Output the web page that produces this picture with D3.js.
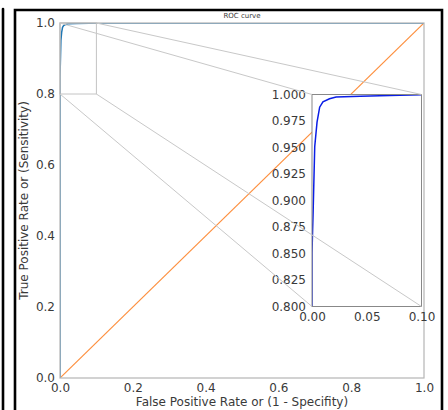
<!DOCTYPE html>
<html>
<head>
<meta charset="utf-8">
<script src="https://cdn.jsdelivr.net/npm/d3@7"></script>
<style>
  body { margin: 0; background: #fff; }
  svg text { font-family: "DejaVu Sans", sans-serif; fill: #3a3a3a; }
</style>
</head>
<body>
<div id="chart"></div>
<script>
// ROC curve
const rocFpr = [0, 0, 0.0005, 0.001, 0.0025, 0.0046, 0.007, 0.010, 0.016, 0.022, 0.044, 0.08, 0.1, 1.0];
const rocTpr = [0, 0.85, 0.87, 0.888, 0.951, 0.974, 0.988, 0.993, 0.996, 0.9977, 0.9984, 0.9993, 0.9997, 1.0];
const chanceLine = [0, 1];

const xTicks = [0, 0.2, 0.4, 0.6, 0.8, 1.0];
const yTicks = [0, 0.2, 0.4, 0.6, 0.8, 1.0];
const zoomX = [0, 0.1];
const zoomY = [0.8, 1.0];
const insetXTicks = [0, 0.05, 0.1];
const insetYTicks = [0.8, 0.825, 0.85, 0.875, 0.9, 0.925, 0.95, 0.975, 1.0];

const W = 448, H = 410;
const svg = d3.select("#chart").append("svg")
    .attr("width", W)
    .attr("height", H);

// black frame around the figure
svg.append("line")
    .attr("x1", 3).attr("x2", 3).attr("y1", 9).attr("y2", H + 5)
    .attr("stroke", "#000").attr("stroke-width", 2.6).attr("stroke-linecap", "round");
svg.append("path")
    .attr("d", `M15,${H + 5}V10H442V${H + 5}`)
    .attr("fill", "none").attr("stroke", "#000").attr("stroke-width", 2.6);

// main axes
const x = d3.scaleLinear().domain([0, 1]).range([60, 424]);
const y = d3.scaleLinear().domain([0, 1]).range([378, 23]);

svg.append("clipPath").attr("id", "mainClip")
    .append("rect")
    .attr("x", x(0)).attr("y", y(1))
    .attr("width", x(1) - x(0)).attr("height", y(0) - y(1));

svg.append("g")
    .attr("transform", `translate(0,${y(0)})`)
    .call(d3.axisBottom(x).tickValues(xTicks).tickFormat(d3.format(".1f")).tickSize(0).tickPadding(5))
    .call(g => g.select(".domain").remove())
    .selectAll("text").style("font-size", "12px").attr("fill", "#3a3a3a");

svg.append("g")
    .attr("transform", `translate(${x(0)},0)`)
    .call(d3.axisLeft(y).tickValues(yTicks).tickFormat(d3.format(".1f")).tickSize(0).tickPadding(5))
    .call(g => g.select(".domain").remove())
    .selectAll("text").style("font-size", "12px").attr("fill", "#3a3a3a");

const line = d3.line().x(d => x(d[0])).y(d => y(d[1]));

svg.append("path")
    .datum(chanceLine.map(v => [v, v]))
    .attr("d", line)
    .attr("clip-path", "url(#mainClip)")
    .attr("fill", "none").attr("stroke", "#fd8f3e").attr("stroke-width", 1.2);

svg.append("path")
    .datum(rocFpr.map((v, i) => [v, rocTpr[i]]))
    .attr("d", line)
    .attr("clip-path", "url(#mainClip)")
    .attr("fill", "none").attr("stroke", "#1f77b4").attr("stroke-width", 1.5);

// zoom indicator box
svg.append("rect")
    .attr("x", x(zoomX[0])).attr("y", y(zoomY[1]))
    .attr("width", x(zoomX[1]) - x(zoomX[0]))
    .attr("height", y(zoomY[0]) - y(zoomY[1]))
    .attr("fill", "none").attr("stroke", "#c4c4c4").attr("stroke-width", 1);

// spines of main axes
svg.append("rect")
    .attr("x", x(0)).attr("y", y(1))
    .attr("width", x(1) - x(0)).attr("height", y(0) - y(1))
    .attr("fill", "none").attr("stroke", "#b5b5b5").attr("stroke-width", 1.2);

svg.append("text")
    .attr("x", (x(0) + x(1)) / 2).attr("y", 406)
    .attr("text-anchor", "middle").style("font-size", "12px")
    .text("False Positive Rate or (1 - Specifity)");

svg.append("text")
    .attr("transform", `translate(28,${(y(0) + y(1)) / 2}) rotate(-90)`)
    .attr("text-anchor", "middle").style("font-size", "12px")
    .text("True Positive Rate or (Sensitivity)");

svg.append("text")
    .attr("x", (x(0) + x(1)) / 2).attr("y", 18)
    .attr("text-anchor", "middle").style("font-size", "7px")
    .attr("fill", "#555")
    .text("ROC curve");

// inset axes
const xi = d3.scaleLinear().domain(zoomX).range([312, 421.5]);
const yi = d3.scaleLinear().domain(zoomY).range([306.5, 94.5]);

const inset = svg.append("g");
inset.append("rect")
    .attr("x", xi(zoomX[0])).attr("y", yi(zoomY[1]))
    .attr("width", xi(zoomX[1]) - xi(zoomX[0]))
    .attr("height", yi(zoomY[0]) - yi(zoomY[1]))
    .attr("fill", "#fff");

svg.append("clipPath").attr("id", "insetClip")
    .append("rect")
    .attr("x", xi(zoomX[0])).attr("y", yi(zoomY[1]))
    .attr("width", xi(zoomX[1]) - xi(zoomX[0]))
    .attr("height", yi(zoomY[0]) - yi(zoomY[1]));

inset.append("path")
    .datum(rocFpr.map((v, i) => [v, rocTpr[i]]))
    .attr("d", d3.line().x(d => xi(d[0])).y(d => yi(d[1])))
    .attr("clip-path", "url(#insetClip)")
    .attr("fill", "none").attr("stroke", "#0a1ee6").attr("stroke-width", 1.5);

inset.append("g")
    .attr("transform", `translate(0,${yi(zoomY[0])})`)
    .call(d3.axisBottom(xi).tickValues(insetXTicks).tickFormat(d3.format(".2f")).tickSize(0).tickPadding(6))
    .call(g => g.select(".domain").remove())
    .selectAll("text").style("font-size", "12px").attr("fill", "#3a3a3a");

inset.append("g")
    .attr("transform", `translate(${xi(zoomX[0])},0)`)
    .call(d3.axisLeft(yi).tickValues(insetYTicks).tickFormat(d3.format(".3f")).tickSize(0).tickPadding(6))
    .call(g => g.select(".domain").remove())
    .selectAll("text").style("font-size", "12px").attr("fill", "#3a3a3a");

inset.append("rect")
    .attr("x", xi(zoomX[0])).attr("y", yi(zoomY[1]))
    .attr("width", xi(zoomX[1]) - xi(zoomX[0]))
    .attr("height", yi(zoomY[0]) - yi(zoomY[1]))
    .attr("fill", "none").attr("stroke", "#888").attr("stroke-width", 1);

// connectors: each corner of the zoom box to the same corner of the inset
const corners = [
    [zoomX[0], zoomY[1]], [zoomX[1], zoomY[1]],
    [zoomX[0], zoomY[0]], [zoomX[1], zoomY[0]]
];
svg.selectAll(".connector")
    .data(corners)
    .join("line")
    .attr("class", "connector")
    .attr("x1", d => x(d[0])).attr("y1", d => y(d[1]))
    .attr("x2", d => xi(d[0])).attr("y2", d => yi(d[1]))
    .attr("stroke", "#c8c8c8").attr("stroke-width", 1);
</script>
</body>
</html>
